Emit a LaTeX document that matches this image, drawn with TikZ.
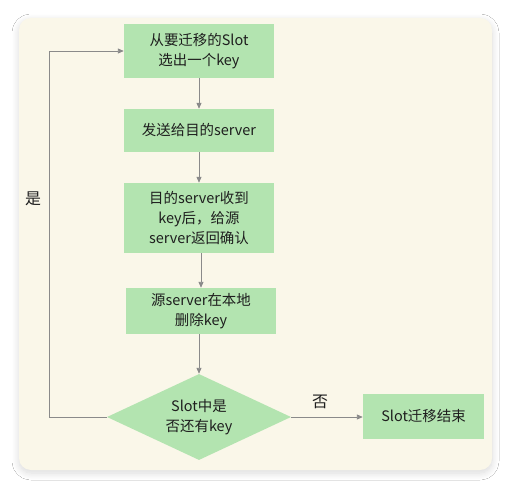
\documentclass[tikz,border=0pt]{standalone}
\usepackage{fontspec}
\setmainfont{Noto Sans CJK SC}
\usetikzlibrary{arrows.meta,shapes.geometric,shadows.blur}
\definecolor{panelbg}{HTML}{FAF7E9}
\definecolor{boxgreen}{HTML}{B3E4B0}
\definecolor{linegray}{HTML}{8A8A8A}
\definecolor{txt}{HTML}{1E1E1E}
\tikzset{
  stepbox/.style={fill=boxgreen, draw=none, inner sep=0pt, align=center, text=txt,
     font=\fontsize{14.5}{20}\selectfont},
  flow/.style={draw=linegray, line width=0.9bp, -{Triangle[length=6bp,width=5bp]}},
  lbl/.style={text=txt, font=\fontsize{16}{20}\selectfont}
}
\begin{document}
\begin{tikzpicture}[x=1bp,y=-1bp]
\useasboundingbox[fill=white] (0,0) rectangle (510,489);
\fill[panelbg, rounded corners=12bp, blur shadow={shadow xshift=0bp, shadow yshift=-3bp, shadow blur radius=7bp, shadow opacity=15, shadow blur steps=12}] (19,18) rectangle (492,470);
\node[stepbox, minimum width=150bp, minimum height=54bp] (b1) at (199,51) {从要迁移的Slot\\选出一个key};
\node[stepbox, minimum width=150bp, minimum height=43bp] (b2) at (199,130.5) {发送给目的server};
\node[stepbox, minimum width=150bp, minimum height=70bp] (b3) at (199,218) {目的server收到\\key后，给源\\server返回确认};
\node[stepbox, minimum width=150bp, minimum height=46bp] (b4) at (201,311) {源server在本地\\删除key};
\node[stepbox, diamond, aspect=2.14, minimum width=184bp, minimum height=86bp] (d) at (199,417) {Slot中是\\否还有key};
\node[stepbox, minimum width=121bp, minimum height=45bp] (b5) at (423.5,416.5) {Slot迁移结束};
\coordinate (c1) at (49,417);
\coordinate (c2) at (49,51);
\draw[flow] (b1.south) -- (b2.north);
\draw[flow] (b2.south) -- (b3.north);
\draw[flow] (b3.south -| b4.north) -- (b4.north);
\draw[flow] (b4.south -| d.north) -- (d.north);
\draw[flow] (d.east) -- (b5.west |- d.east);
\draw[flow] (d.west) -- (c1) -- (c2) -- (b1.west);
\node[lbl] (yes) at (33,199) {是};
\node[lbl] (no) at (320,402) {否};
\end{tikzpicture}
\end{document}
